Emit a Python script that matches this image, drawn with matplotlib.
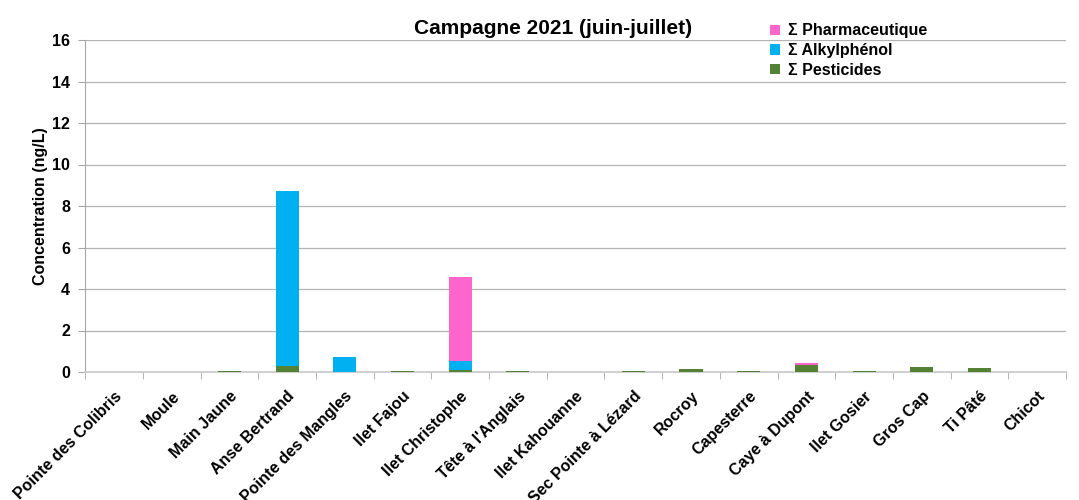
import matplotlib.pyplot as plt
import numpy as np

plt.rcParams['font.family'] = ['Liberation Sans', 'DejaVu Sans']
plt.rcParams['font.weight'] = 'bold'

stations = ['Pointe des Colibris', 'Moule', 'Main Jaune', 'Anse Bertrand',
            'Pointe des Mangles', 'Ilet Fajou', 'Ilet Christophe',
            "Tête à l'Anglais", 'Ilet Kahouanne', 'Sec Pointe à Lézard',
            'Rocroy', 'Capesterre', 'Caye à Dupont', 'Ilet Gosier',
            'Gros Cap', 'Ti Pâté', 'Chicot']
pesticides = [0, 0, 0.03, 0.3, 0, 0.03, 0.12, 0.03, 0, 0.03, 0.13, 0.05,
              0.36, 0.03, 0.25, 0.18, 0]
alkylphenol = [0, 0, 0, 8.4, 0.7, 0, 0.42, 0, 0, 0, 0, 0, 0, 0, 0, 0, 0]
pharma = [0, 0, 0, 0, 0, 0, 4.06, 0, 0, 0, 0, 0, 0.06, 0, 0, 0, 0]

fig = plt.figure(figsize=(10.79, 5), dpi=100)
ax = fig.add_axes([0.079, 0.256, 0.909, 0.664])

x = np.arange(len(stations))
w = 0.4
p = np.array(pesticides)
a = np.array(alkylphenol)
ph = np.array(pharma)
ax.bar(x, p, w, color='#548235', linewidth=0, label='Σ Pesticides', zorder=3)
ax.bar(x, a, w, bottom=p, color='#00B0F0', linewidth=0,
       label='Σ Alkylphénol', zorder=3)
ax.bar(x, ph, w, bottom=p + a, color='#FF66CC', linewidth=0,
       label='Σ Pharmaceutique', zorder=3)

ax.set_xlim(-0.5, len(stations) - 0.5)
ax.set_ylim(0, 16)
ax.set_yticks(range(0, 17, 2))
ax.yaxis.grid(True, color='#b3b3b3', linewidth=0.9, zorder=0)
ax.set_axisbelow(True)

ax.set_xticks(x)
ax.set_xticklabels(stations, rotation=45, ha='right', rotation_mode='anchor',
                   fontsize=11.5, fontweight='bold')
ax.tick_params(axis='x', which='major', length=0, pad=12)
ax.set_xticks(np.arange(-0.5, len(stations)), minor=True)
ax.tick_params(axis='x', which='minor', length=5, color='#a6a6a6')
ax.tick_params(axis='y', length=5, color='#a6a6a6', labelsize=11.5, pad=6)
for lbl in ax.get_yticklabels():
    lbl.set_fontweight('bold')

for s in ['top', 'right']:
    ax.spines[s].set_visible(False)
ax.spines['left'].set_color('#a6a6a6')
ax.spines['bottom'].set_color('#d0d0d0')
ax.spines['bottom'].set_linewidth(1.5)

ax.set_ylabel('Concentration (ng/L)', fontsize=11.5, fontweight='bold',
              labelpad=3)
fig.text(0.5125, 0.932, 'Campagne 2021 (juin-juillet)', fontsize=15,
         fontweight='bold', ha='center', va='baseline')

h, l = ax.get_legend_handles_labels()
fig.legend(h[::-1], l[::-1], loc='upper left', bbox_to_anchor=(0.708, 0.966),
           frameon=False, fontsize=11.5, handlelength=0.6, handleheight=0.6,
           handletextpad=0.5, labelspacing=0.3, borderaxespad=0)

fig.savefig('out.png', dpi=100)
